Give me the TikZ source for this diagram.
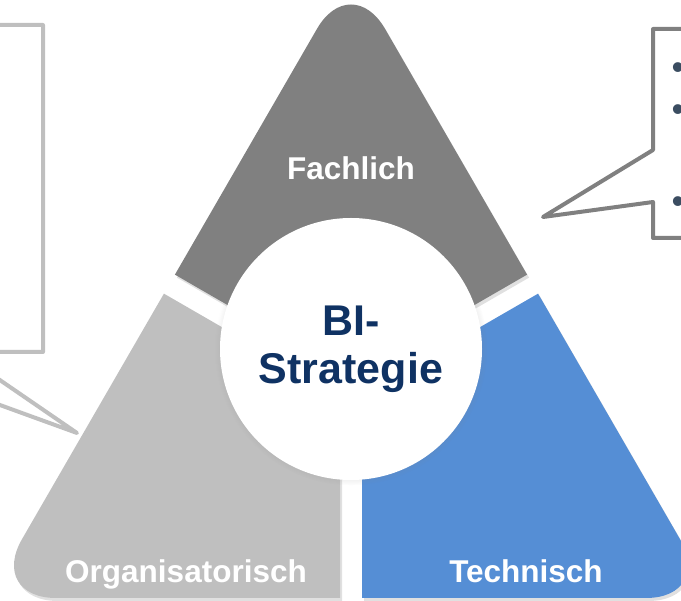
\documentclass[tikz,border=0pt]{standalone}
\usepackage{fontspec}
\setmainfont{Liberation Sans}
\usetikzlibrary{shadows}
\definecolor{grauDunkel}{HTML}{808080}
\definecolor{grauHell}{HTML}{BFBFBF}
\definecolor{blauFeld}{HTML}{558ED5}
\definecolor{dunkelBlau}{HTML}{0F3263}
\definecolor{punktFarbe}{HTML}{3B4D61}
\newcommand{\dreieck}{(351,-30) -- (-12,598) -- (714,598) -- cycle}

\begin{document}
\begin{tikzpicture}[
  x=1pt, y=-1pt,
  feld/.style={rounded corners=68pt},
  schatten/.style={fill=black, opacity=0.12},
  beschriftung/.style={text=white, font=\fontsize{31.5}{36}\selectfont\bfseries,
                       anchor=base, inner sep=0pt},
  kreis/.style={circle, fill=white, minimum size=262pt, inner sep=0pt, align=center,
                text=dunkelBlau, font=\fontsize{43}{48}\selectfont\bfseries,
                circular drop shadow={shadow scale=1.04, shadow xshift=0pt,
                                      shadow yshift=0pt, opacity=0.35}},
  blase/.style={line width=4pt, line join=round, fill=white},
  punkt/.style={text=punktFarbe, font=\fontsize{36}{40}\selectfont,
                anchor=base, inner sep=0pt}
]
\useasboundingbox (0,0) rectangle (681,601);

% Sprechblasen, rechts und links angeschnitten
\draw[blase, draw=grauHell] (-300,25) -- (43,25) -- (43,352) -- (-41,352)
  -- (77,433) -- (-146,352) -- (-300,352) -- cycle;
\draw[blase, draw=grauDunkel] (653,29) -- (900,29) -- (900,238) -- (653,238)
  -- (653,202) -- (543,217) -- (653,150) -- cycle;

% Schatten der drei Felder
\begin{scope}[shift={(2,3)}]
  \clip (351,376.3) -- (-168.6,76.3) -- (-168.6,-300) -- (870.6,-300) -- (870.6,76.3) -- cycle;
  \fill[feld, schatten] \dreieck;
\end{scope}
\begin{scope}[shift={(2,3)}]
  \clip (340,395.3) -- (-266.2,45.3) -- (-400,45.3) -- (-400,700) -- (340,700) -- cycle;
  \fill[feld, schatten] \dreieck;
\end{scope}
\begin{scope}[shift={(2,3)}]
  \clip (362,395.3) -- (968.2,45.3) -- (1100,45.3) -- (1100,700) -- (362,700) -- cycle;
  \fill[feld, schatten] \dreieck;
\end{scope}

% Felder
\begin{scope}
  \clip (351,376.3) -- (-168.6,76.3) -- (-168.6,-300) -- (870.6,-300) -- (870.6,76.3) -- cycle;
  \fill[feld, grauDunkel] \dreieck;
\end{scope}
\begin{scope}
  \clip (340,395.3) -- (-266.2,45.3) -- (-400,45.3) -- (-400,700) -- (340,700) -- cycle;
  \fill[feld, grauHell] \dreieck;
\end{scope}
\begin{scope}
  \clip (362,395.3) -- (968.2,45.3) -- (1100,45.3) -- (1100,700) -- (362,700) -- cycle;
  \fill[feld, blauFeld] \dreieck;
\end{scope}

\node[beschriftung] (fachlich) at (351,180) {Fachlich};
\node[beschriftung] (orga) at (186,583) {Organisatorisch};
\node[beschriftung] (technisch) at (526,583) {Technisch};

\node[kreis] (strategie) at (351,349) {BI-\\Strategie};

% Aufzaehlungspunkte der rechten Blase
\node[punkt] (p1) at (678,80) {\textbullet};
\node[punkt] (p2) at (678,122) {\textbullet};
\node[punkt] (p3) at (678,214) {\textbullet};

\end{tikzpicture}
\end{document}
